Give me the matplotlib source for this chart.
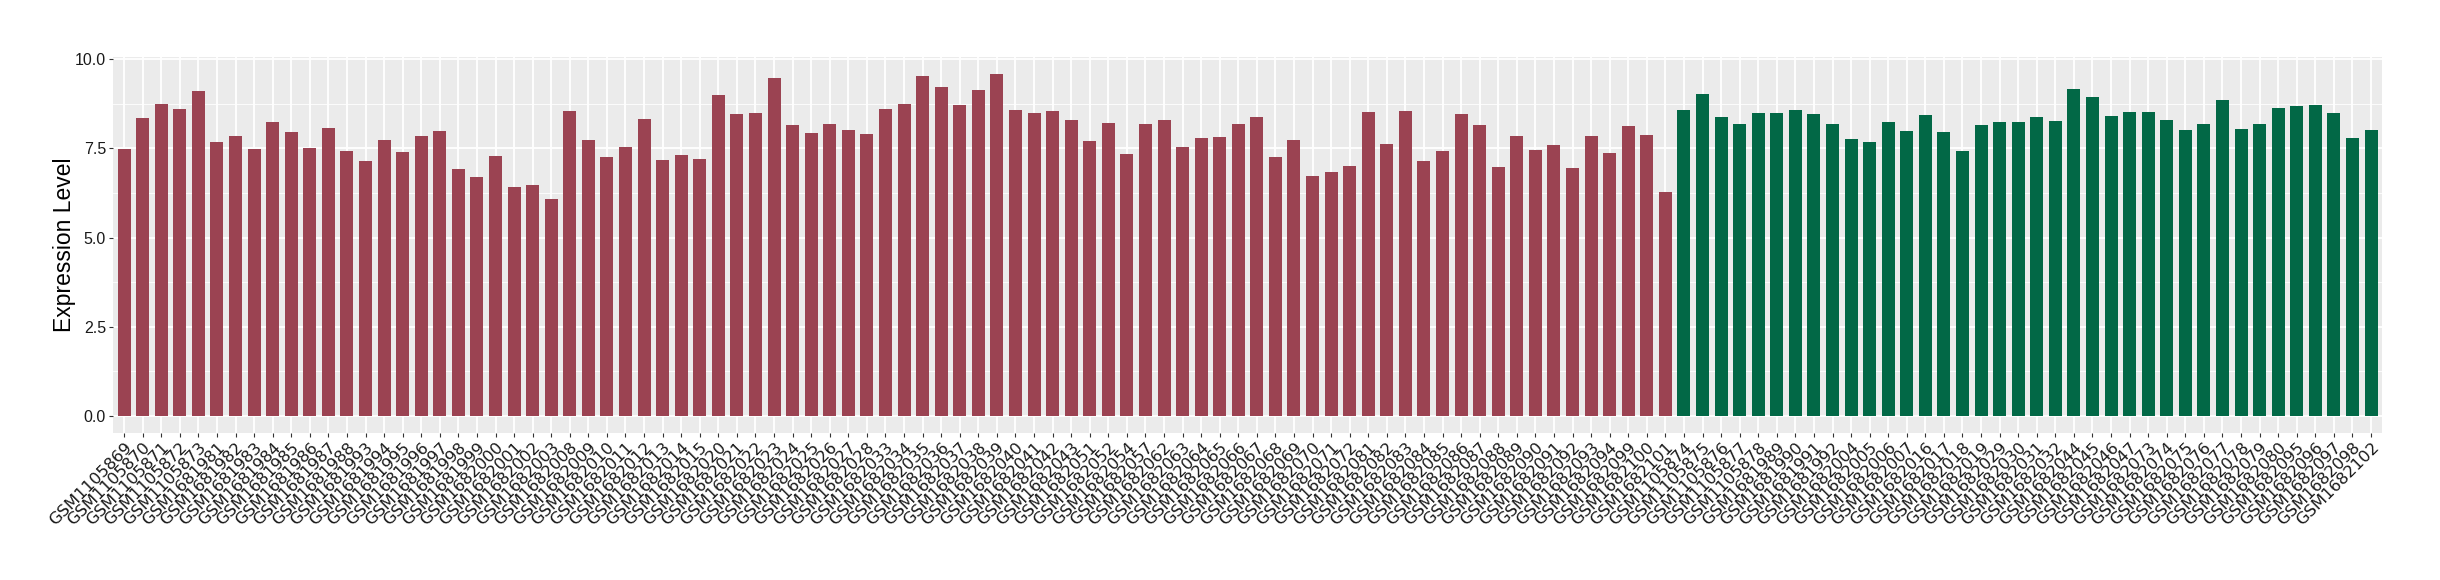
import matplotlib
matplotlib.use("Agg")
import matplotlib.pyplot as plt
from matplotlib.ticker import MultipleLocator

# Samples and expression values
red_samples = [
    "GSM1105869", "GSM1105870", "GSM1105871", "GSM1105872", "GSM1105873",
    "GSM1681981", "GSM1681982", "GSM1681983", "GSM1681984", "GSM1681985",
    "GSM1681986", "GSM1681987", "GSM1681988", "GSM1681993", "GSM1681994",
    "GSM1681995", "GSM1681996", "GSM1681997", "GSM1681998", "GSM1681999",
    "GSM1682000", "GSM1682001", "GSM1682002", "GSM1682003", "GSM1682008",
    "GSM1682009", "GSM1682010", "GSM1682011", "GSM1682012", "GSM1682013",
    "GSM1682014", "GSM1682015", "GSM1682020", "GSM1682021", "GSM1682022",
    "GSM1682023", "GSM1682024", "GSM1682025", "GSM1682026", "GSM1682027",
    "GSM1682028", "GSM1682033", "GSM1682034", "GSM1682035", "GSM1682036",
    "GSM1682037", "GSM1682038", "GSM1682039", "GSM1682040", "GSM1682041",
    "GSM1682042", "GSM1682043", "GSM1682051", "GSM1682052", "GSM1682054",
    "GSM1682057", "GSM1682062", "GSM1682063", "GSM1682064", "GSM1682065",
    "GSM1682066", "GSM1682067", "GSM1682068", "GSM1682069", "GSM1682070",
    "GSM1682071", "GSM1682072", "GSM1682081", "GSM1682082", "GSM1682083",
    "GSM1682084", "GSM1682085", "GSM1682086", "GSM1682087", "GSM1682088",
    "GSM1682089", "GSM1682090", "GSM1682091", "GSM1682092", "GSM1682093",
    "GSM1682094", "GSM1682099", "GSM1682100", "GSM1682101",
]
red_values = [
    7.49, 8.36, 8.75, 8.61, 9.11, 7.68, 7.85, 7.49, 8.24, 7.96,
    7.51, 8.07, 7.43, 7.15, 7.74, 7.40, 7.85, 7.99, 6.93, 6.70,
    7.29, 6.42, 6.48, 6.08, 8.55, 7.74, 7.26, 7.54, 8.33, 7.18,
    7.32, 7.21, 9.00, 8.47, 8.50, 9.48, 8.16, 7.93, 8.19, 8.02,
    7.91, 8.61, 8.75, 9.53, 9.22, 8.72, 9.14, 9.59, 8.58, 8.50,
    8.55, 8.30, 7.71, 8.21, 7.35, 8.19, 8.30, 7.54, 7.79, 7.82,
    8.19, 8.38, 7.26, 7.74, 6.73, 6.84, 7.01, 8.52, 7.63, 8.55,
    7.15, 7.43, 8.47, 8.16, 6.98, 7.85, 7.46, 7.60, 6.95, 7.85,
    7.37, 8.13, 7.88, 6.28,
]

green_samples = [
    "GSM1105874", "GSM1105875", "GSM1105876", "GSM1105877", "GSM1105878",
    "GSM1681989", "GSM1681990", "GSM1681991", "GSM1681992", "GSM1682004",
    "GSM1682005", "GSM1682006", "GSM1682007", "GSM1682016", "GSM1682017",
    "GSM1682018", "GSM1682019", "GSM1682029", "GSM1682030", "GSM1682031",
    "GSM1682032", "GSM1682044", "GSM1682045", "GSM1682046", "GSM1682047",
    "GSM1682073", "GSM1682074", "GSM1682075", "GSM1682076", "GSM1682077",
    "GSM1682078", "GSM1682079", "GSM1682080", "GSM1682095", "GSM1682096",
    "GSM1682097", "GSM1682098", "GSM1682102",
]
green_values = [
    8.58, 9.03, 8.38, 8.19, 8.50, 8.50, 8.58, 8.47, 8.19, 7.77,
    7.68, 8.24, 7.99, 8.44, 7.96, 7.43, 8.16, 8.24, 8.24, 8.38,
    8.27, 9.17, 8.94, 8.41, 8.52, 8.52, 8.30, 8.02, 8.19, 8.86,
    8.05, 8.19, 8.64, 8.69, 8.72, 8.50, 7.79, 8.02,
]

red_color = "#9B4352"
green_color = "#026846"

samples = red_samples + green_samples
values = red_values + green_values
colors = [red_color] * len(red_samples) + [green_color] * len(green_samples)
x = list(range(len(samples)))

fig = plt.figure(figsize=(24.4, 5.8), dpi=100)
ax = fig.add_axes([0.0463, 0.2534, 0.9300, 0.6488])

ax.set_facecolor("#EBEBEB")
ax.bar(x, values, width=0.7, color=colors, zorder=3)

# ggplot-like grid
ax.yaxis.set_major_locator(MultipleLocator(2.5))
ax.yaxis.set_minor_locator(MultipleLocator(1.25))
ax.grid(which="major", axis="y", color="white", linewidth=1.3, zorder=0)
ax.grid(which="minor", axis="y", color="white", linewidth=0.6, zorder=0)
ax.grid(which="major", axis="x", color="white", linewidth=1.3, zorder=0)
ax.tick_params(axis="y", which="minor", length=0)

ax.set_xlim(-0.6, len(samples) - 0.4)
ax.set_ylim(-0.48, 10.07)
for s in ax.spines.values():
    s.set_visible(False)

ax.set_xticks(x)
ax.set_xticklabels(samples, rotation=45, ha="right", va="top",
                   rotation_mode="anchor", fontsize=11.8,
                   family="DejaVu Sans", color="#1A1A1A")
ax.set_yticks([0, 2.5, 5, 7.5, 10])
ax.set_yticklabels(["0.0", "2.5", "5.0", "7.5", "10.0"],
                   fontsize=11.5, family="Liberation Sans", color="#1A1A1A")
ax.tick_params(axis="both", which="major", length=3, width=0.8,
               color="#333333", pad=2)

ax.set_ylabel("Expression Level", fontsize=16.5, family="Liberation Sans")
ax.yaxis.set_label_coords(-0.0165, 0.5)

fig.savefig("out.png", dpi=100)
